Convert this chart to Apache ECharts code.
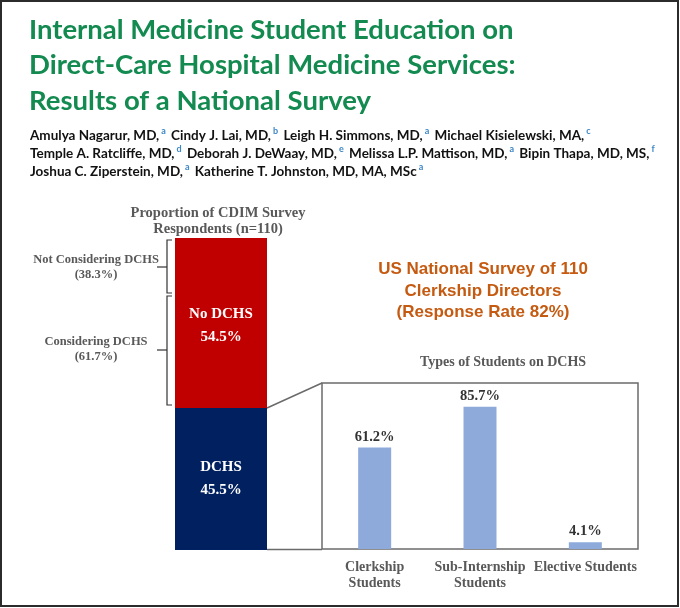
<!DOCTYPE html>
<html>
<head>
<meta charset="utf-8">
<script src="https://cdn.jsdelivr.net/npm/echarts@6/dist/echarts.min.js"></script>
<style>
  html, body { margin: 0; padding: 0; background: #fff; }
</style>
</head>
<body>
<div id="main" style="width: 680px;height:608px;"></div>
<script type="text/javascript">
    // data
    var respondentCats = ['CDIM'];
    var dchsPct = [45.5];
    var noDchsPct = [54.5];
    var studentTypes = ['Clerkship\nStudents', 'Sub-Internship\nStudents', 'Elective Students'];
    var studentPct = [61.2, 85.7, 4.1];
    var bracketLabels = ['Not Considering DCHS\n(38.3%)', 'Considering DCHS\n(61.7%)'];

    var serif = '"Liberation Serif", "DejaVu Serif", serif';
    var grey = '#595959';

    var myChart = echarts.init(document.getElementById('main'));

    var option = {
        animation: false,
        backgroundColor: '#fff',
        title: [{
            text: 'Internal Medicine Student Education on\nDirect-Care Hospital Medicine Services:\nResults of a National Survey',
            left: 24, top: 7,
            textStyle: { color: '#138a50', fontFamily: 'Lato', fontWeight: 'bold', fontSize: 27.5, lineHeight: 35.5 }
        }, {
            text: 'Amulya Nagarur, MD,{s|a} Cindy J. Lai, MD,{s|b} Leigh H. Simmons, MD,{s|a} Michael Kisielewski, MA,{s|c}\n' +
                  'Temple A. Ratcliffe, MD,{s|d} Deborah J. DeWaay, MD,{s|e} Melissa L.P. Mattison, MD,{s|a} Bipin Thapa, MD, MS,{s|f}\n' +
                  'Joshua C. Ziperstein, MD,{s|a} Katherine T. Johnston, MD, MA, MSc{s|a}',
            left: 25, top: 122,
            textStyle: {
                color: '#111', fontFamily: 'Lato', fontWeight: 'bold', fontSize: 13.5, lineHeight: 18,
                rich: { s: { color: '#3d86c6', fontSize: 9, fontFamily: 'Lato', lineHeight: 16, verticalAlign: 'top', padding: [0, 2, 0, 2] } }
            }
        }, {
            text: 'Proportion of CDIM Survey\nRespondents (n=110)',
            left: 213, top: 200, textAlign: 'center',
            textStyle: { color: grey, fontFamily: serif, fontWeight: 'bold', fontSize: 14.5, lineHeight: 16 }
        }, {
            text: 'US National Survey of 110\nClerkship Directors\n(Response Rate 82%)',
            left: 478, top: 254, textAlign: 'center',
            textStyle: { color: '#c55a11', fontFamily: '"Liberation Sans", Arial, sans-serif', fontWeight: 'bold', fontSize: 17, lineHeight: 21.5 }
        }, {
            text: 'Types of Students on DCHS',
            left: 498, top: 350, textAlign: 'center',
            textStyle: { color: grey, fontFamily: serif, fontWeight: 'bold', fontSize: 14, lineHeight: 15 }
        }, {
            text: bracketLabels[0],
            left: 91, top: 247, textAlign: 'center',
            textStyle: { color: grey, fontFamily: serif, fontWeight: 'bold', fontSize: 12.5, lineHeight: 15.5 }
        }, {
            text: bracketLabels[1],
            left: 91, top: 329, textAlign: 'center',
            textStyle: { color: grey, fontFamily: serif, fontWeight: 'bold', fontSize: 12.5, lineHeight: 15.5 }
        }],
        grid: [
            { left: 175, top: 238, width: 92, height: 312 },
            { left: 322, top: 383, width: 316, height: 166, show: true, borderColor: '#6b6b6b', borderWidth: 1.5, backgroundColor: 'transparent' }
        ],
        xAxis: [{
            gridIndex: 0, type: 'category', data: respondentCats,
            axisLine: { show: false }, axisTick: { show: false }, axisLabel: { show: false }
        }, {
            gridIndex: 1, type: 'category', data: studentTypes,
            axisLine: { show: false }, axisTick: { show: false },
            axisLabel: { color: grey, fontFamily: serif, fontWeight: 'bold', fontSize: 14, lineHeight: 16, margin: 10, interval: 0 }
        }],
        yAxis: [{
            gridIndex: 0, type: 'value', min: 0, max: 100, show: false
        }, {
            gridIndex: 1, type: 'value', min: 0, max: 100, show: false
        }],
        series: [{
            name: 'DCHS', type: 'bar', stack: 'all', xAxisIndex: 0, yAxisIndex: 0,
            data: dchsPct, barWidth: '100%',
            itemStyle: { color: '#002060' },
            label: {
                show: true, position: 'inside', formatter: '{a}\n{c}%',
                color: '#fff', fontFamily: serif, fontWeight: 'bold', fontSize: 15, lineHeight: 23
            }
        }, {
            name: 'No DCHS', type: 'bar', stack: 'all', xAxisIndex: 0, yAxisIndex: 0,
            data: noDchsPct, barWidth: '100%',
            itemStyle: { color: '#c00000' },
            label: {
                show: true, position: 'inside', formatter: '{a}\n{c}%', offset: [0, 3],
                color: '#fff', fontFamily: serif, fontWeight: 'bold', fontSize: 15, lineHeight: 23
            }
        }, {
            name: 'Types of Students', type: 'bar', xAxisIndex: 1, yAxisIndex: 1,
            data: studentPct, barWidth: 33,
            itemStyle: { color: '#8eaadb' },
            label: {
                show: true, position: 'top', distance: 3, formatter: '{c}%',
                color: '#333', fontFamily: serif, fontWeight: 'bold', fontSize: 14.5
            }
        }],
        graphic: [
            // frame round the whole figure
            { type: 'rect', shape: { x: 1, y: 1, width: 677, height: 605 }, style: { fill: 'none', stroke: '#2b2b2b', lineWidth: 2 }, z: 100 },
            // brackets
            { type: 'polyline', shape: { points: [[172, 240], [167, 240], [167, 293], [172, 293]] }, style: { fill: 'none', stroke: '#333', lineWidth: 1.2 } },
            { type: 'line', shape: { x1: 157, y1: 267, x2: 167, y2: 267 }, style: { stroke: '#333', lineWidth: 1.2 } },
            { type: 'polyline', shape: { points: [[172, 296], [167, 296], [167, 405], [172, 405]] }, style: { fill: 'none', stroke: '#333', lineWidth: 1.2 } },
            { type: 'line', shape: { x1: 157, y1: 350, x2: 167, y2: 350 }, style: { stroke: '#333', lineWidth: 1.2 } },
            // zoom lines from the DCHS segment to the box
            { type: 'line', shape: { x1: 267, y1: 408, x2: 322, y2: 383 }, style: { stroke: '#6b6b6b', lineWidth: 1.5 } },
            { type: 'line', shape: { x1: 267, y1: 549.5, x2: 322, y2: 549.5 }, style: { stroke: '#6b6b6b', lineWidth: 1.5 } }
        ]
    };

    myChart.setOption(option);
</script>
</body>
</html>
